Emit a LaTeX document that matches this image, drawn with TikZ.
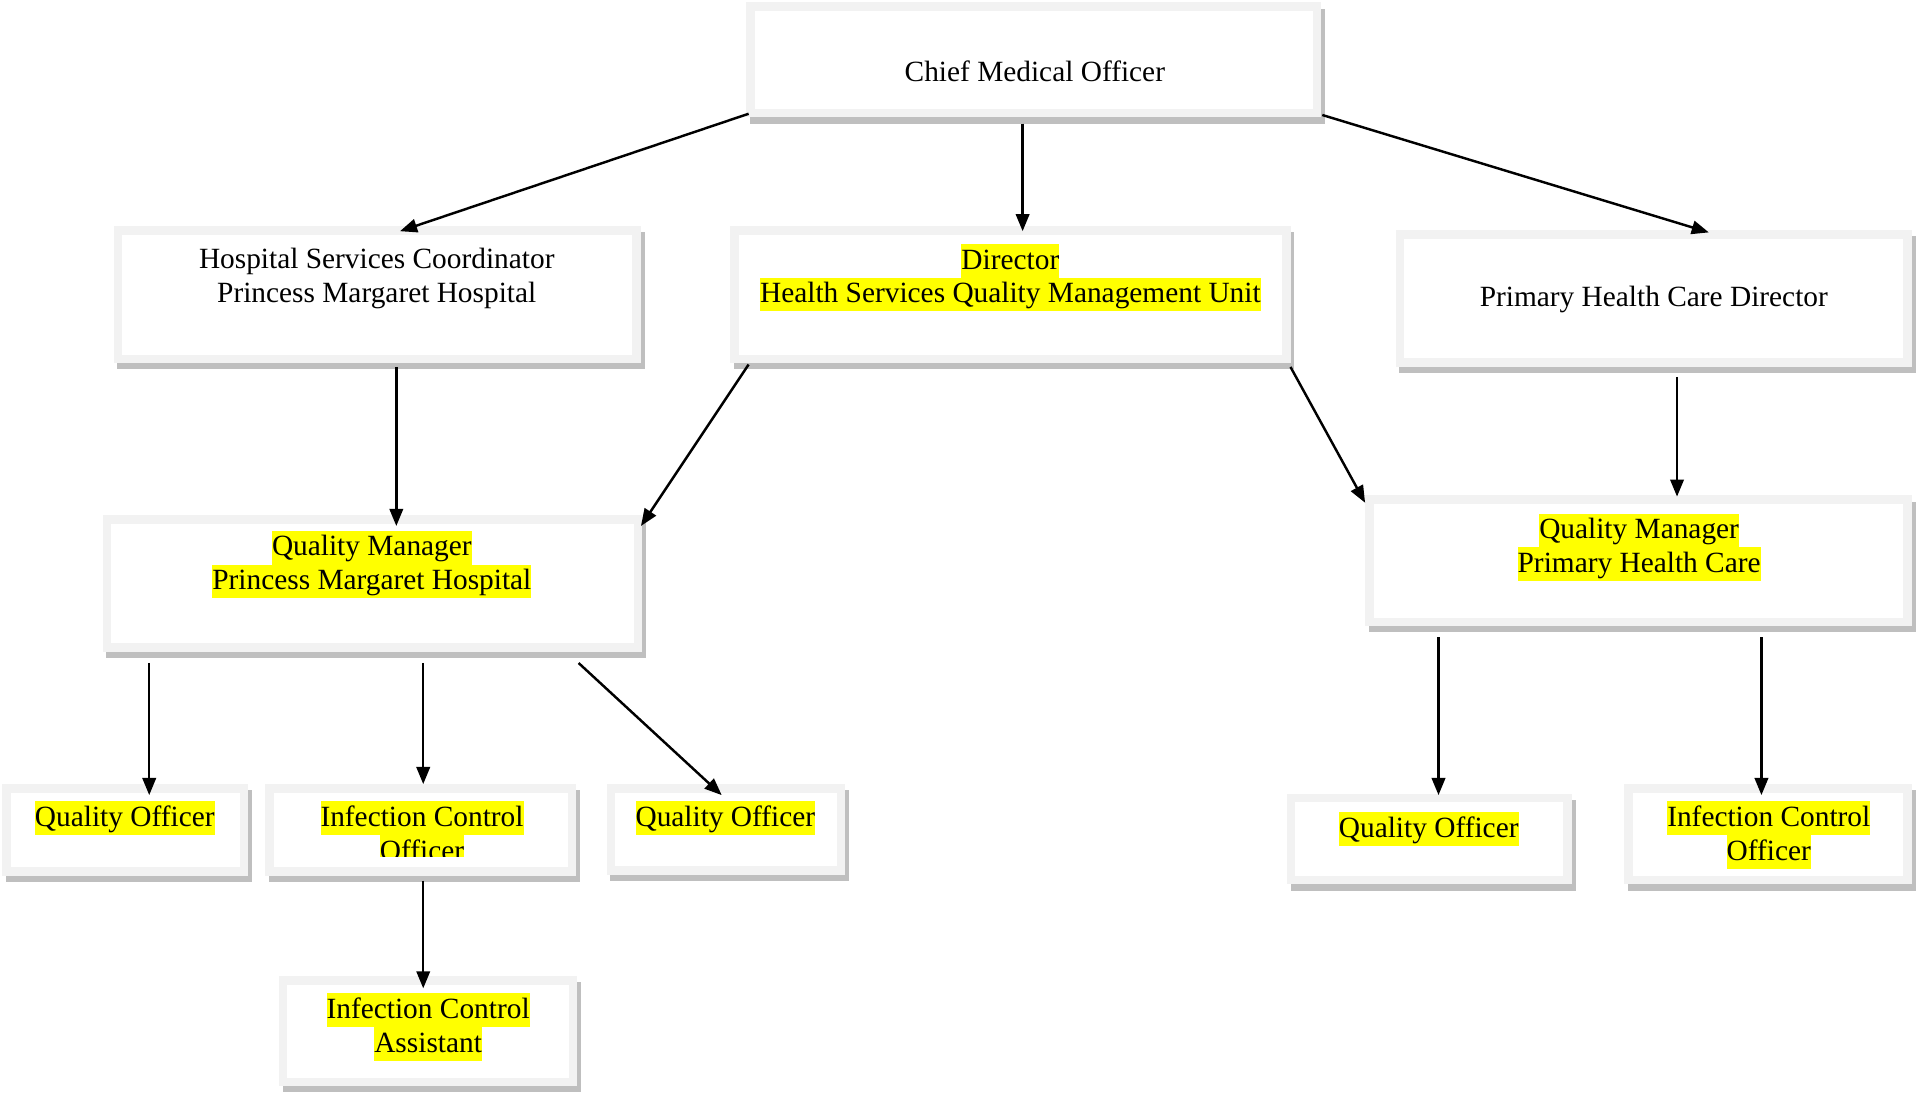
\documentclass[tikz,border=0pt]{standalone}
\usepackage{fontspec}
\setmainfont{Liberation Serif}
\usetikzlibrary{arrows.meta,calc}
\definecolor{bordergray}{HTML}{F2F2F2}
\definecolor{shadowgray}{HTML}{BFBFBF}
\definecolor{hlyellow}{HTML}{FFFF00}
\newcommand\hl[1]{{\setlength{\fboxsep}{0pt}\colorbox{hlyellow}{\rule[-3.5pt]{0pt}{13.8pt}#1}}}
\newcommand\boxfont{\fontsize{12}{13.8}\selectfont\setlength{\lineskiplimit}{-20pt}}
% name, left, top, right, bottom (outer edges of the grey frame)
\newcommand\orgbox[5]{%
  \fill[shadowgray] (#2+3,#3+5) rectangle (#4+3,#5+5);
  \node[boxstyle, minimum width={(#4-#2-7)*0.5pt}, minimum height={(#5-#3-7)*0.5pt}] (#1) at ({(#2+#4)/2},{(#3+#5)/2}) {};
}
\tikzset{
  boxstyle/.style={draw=bordergray, line width=3.5pt, fill=white, inner sep=0pt, outer sep=0pt},
  txt/.style={align=center, inner sep=0pt, font=\boxfont},
  conn/.style={line width=1pt, -{Triangle[length=7pt,width=5.5pt]}}
}
\begin{document}
\begin{tikzpicture}[x=0.5pt,y=-0.5pt]
\useasboundingbox[fill=white] (0,0) rectangle (1568,895.2);
% boxes
\orgbox{cmo}{610}{2}{1080}{96}
\orgbox{hsc}{93}{185}{524}{297}
\orgbox{dir}{597}{185}{1055}{297}
\orgbox{phc}{1141}{188}{1563}{300}
\orgbox{qmp}{84}{421}{525}{533}
\orgbox{qmh}{1116}{405}{1563}{512}
\orgbox{qoa}{2}{641}{203}{716}
\orgbox{ico}{217}{641}{471}{716}
\orgbox{qob}{496}{641}{691}{715}
\orgbox{ica}{228}{798}{472}{888}
\orgbox{qoc}{1052}{649}{1285}{723}
\orgbox{icb}{1328}{641}{1563}{723}
% texts
\node[txt] (tcmo) at (846,58) {Chief Medical Officer};
\node[txt] (thsc) at (308,227.5) {Hospital Services Coordinator\\Princess Margaret Hospital};
\node[txt] (tdir) at (826,227) {\hl{Director}\\\hl{Health Services Quality Management Unit}};
\node[txt] (tphc) at (1352,245) {Primary Health Care Director};
\node[txt] (tqmp) at (304,461.5) {\hl{Quality Manager}\\\hl{Princess Margaret Hospital}};
\node[txt] (tqmh) at (1340,447.5) {\hl{Quality Manager}\\\hl{Primary Health Care}};
\node[txt] (tqoa) at (102,669) {\hl{Quality Officer}};
\begin{scope}
  \clip ($(ico.north west)+(3.5,3.5)$) rectangle ($(ico.south east)+(-3.5,-12.5)$);
  \node[txt] (tico) at (345,682.5) {\hl{Infection Control}\\\hl{Officer}};
\end{scope}
\node[txt] (tqob) at (593,669) {\hl{Quality Officer}};
\node[txt] (tica) at (350,839.5) {\hl{Infection Control}\\\hl{Assistant}};
\node[txt] (tqoc) at (1168,677.5) {\hl{Quality Officer}};
\node[txt] (ticb) at (1446,682.5) {\hl{Infection Control}\\\hl{Officer}};
% connector end points
\coordinate (a1s) at (612,93);   \coordinate (a1e) at (327,189);
\coordinate (a2s) at (836,101);  \coordinate (a2e) at (836,189);
\coordinate (a3s) at (1081,94);  \coordinate (a3e) at (1397,190);
\coordinate (a4s) at (324,300);  \coordinate (a4e) at (324,430);
\coordinate (a5s) at (612,298);  \coordinate (a5e) at (524,430);
\coordinate (a6s) at (1055,300); \coordinate (a6e) at (1116,411);
\coordinate (a7s) at (1371,308); \coordinate (a7e) at (1371,406);
\coordinate (a8s) at (122,542);  \coordinate (a8e) at (122,650);
\coordinate (a9s) at (346,542);  \coordinate (a9e) at (346,641);
\coordinate (a10s) at (473,542); \coordinate (a10e) at (590,650);
\coordinate (a11s) at (346,720); \coordinate (a11e) at (346,808);
\coordinate (a12s) at (1176,521);\coordinate (a12e) at (1176,650);
\coordinate (a13s) at (1440,521);\coordinate (a13e) at (1440,650);
% connectors
\foreach \i in {1,...,13} \draw[conn] (a\i s) -- (a\i e);
\end{tikzpicture}
\end{document}
